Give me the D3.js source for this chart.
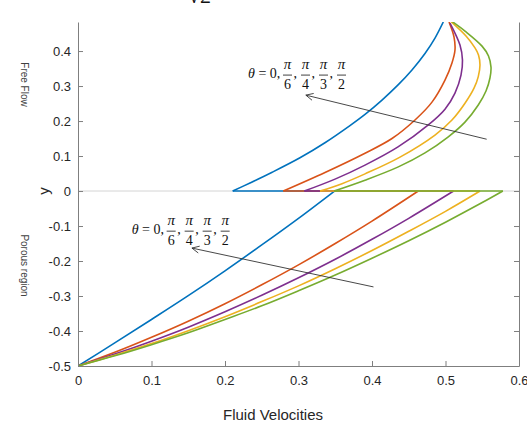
<!DOCTYPE html>
<html lang="en">
<head>
<meta charset="UTF-8">
<title>Fluid Velocities</title>
<script src="https://cdn.jsdelivr.net/npm/d3@7"></script>
<style>
    body { margin: 0; background: #fff; }
    svg { display: block; font-family: "Liberation Sans", Arial, sans-serif; }
    .math { font-family: "Liberation Serif", "Times New Roman", serif; font-size: 14px; fill: #111; }
</style>
</head>
<body>
<div id="chart"></div>
<script>
// theta values, one series each (drawn in this order)
var thetaDen = ["6", "4", "3", "2"];
var colors = ["#0072BD", "#D95319", "#7E2F8E", "#EDB120", "#77AC30"];

// porous region, [u, y]
var porousBlue   = [[0,-0.5],[0.05,-0.434],[0.1,-0.367],[0.15,-0.299],[0.2,-0.228],[0.25,-0.154],[0.3,-0.078],[0.349,0]];
var porousOrange = [[0,-0.5],[0.05,-0.461],[0.1,-0.418],[0.15,-0.372],[0.2,-0.322],[0.25,-0.268],[0.3,-0.211],[0.35,-0.150],[0.4,-0.086],[0.463,0]];
var porousPurple = [[0,-0.5],[0.05,-0.466],[0.1,-0.429],[0.15,-0.389],[0.2,-0.345],[0.25,-0.298],[0.3,-0.248],[0.35,-0.195],[0.4,-0.138],[0.45,-0.078],[0.511,0]];
var porousYellow = [[0,-0.5],[0.05,-0.469],[0.1,-0.436],[0.15,-0.399],[0.2,-0.359],[0.25,-0.316],[0.3,-0.271],[0.35,-0.222],[0.4,-0.170],[0.45,-0.115],[0.5,-0.058],[0.547,0]];
var porousGreen  = [[0,-0.5],[0.05,-0.471],[0.1,-0.439],[0.15,-0.405],[0.2,-0.367],[0.25,-0.328],[0.3,-0.285],[0.35,-0.240],[0.4,-0.192],[0.45,-0.142],[0.5,-0.089],[0.55,-0.033],[0.578,0]];

// free flow region, [u, y]
var freeBlue   = [[0.2105,0],[0.234,0.023],[0.2635,0.053],[0.302,0.095],[0.336,0.138],[0.370,0.187],[0.3905,0.219],[0.4136,0.260],[0.4358,0.304],[0.4544,0.346],[0.4721,0.393],[0.4857,0.437],[0.497,0.483]];
var freeOrange = [[0.2793,0],[0.3361,0.053],[0.3905,0.108],[0.4272,0.150],[0.4585,0.203],[0.4816,0.254],[0.4993,0.317],[0.5088,0.366],[0.5129,0.403],[0.5116,0.440],[0.5048,0.483]];
var freePurple = [[0.3079,0],[0.3497,0.034],[0.3905,0.074],[0.4354,0.126],[0.4766,0.189],[0.4993,0.234],[0.5129,0.280],[0.5211,0.331],[0.5231,0.374],[0.5197,0.417],[0.5061,0.480]];
var freeYellow = [[0.3293,0],[0.3592,0.021],[0.3905,0.049],[0.4381,0.097],[0.4857,0.160],[0.5088,0.203],[0.5265,0.251],[0.5388,0.294],[0.5446,0.327],[0.5469,0.360],[0.5449,0.389],[0.5401,0.409],[0.5279,0.443],[0.5075,0.484]];
var freeGreen  = [[0.3483,0],[0.3905,0.031],[0.4358,0.069],[0.4721,0.109],[0.5038,0.155],[0.5265,0.197],[0.5446,0.246],[0.5551,0.286],[0.5605,0.323],[0.5619,0.354],[0.5585,0.386],[0.5497,0.414],[0.5265,0.457],[0.5093,0.484]];

var xTicks = [0, 0.1, 0.2, 0.3, 0.4, 0.5, 0.6];
var yTicks = [-0.5, -0.4, -0.3, -0.2, -0.1, 0, 0.1, 0.2, 0.3, 0.4];

(function(){
    var porous = [porousBlue, porousOrange, porousPurple, porousYellow, porousGreen];
    var free = [freeBlue, freeOrange, freePurple, freeYellow, freeGreen];

    var width = 527, height = 423;
    var mLeft = 78, mRight = 519, mTop = 22, mBottom = 366;

    var svg = d3.select("#chart").append("svg")
        .attr("width", width)
        .attr("height", height);

    svg.append("rect").attr("width", width).attr("height", height).attr("fill", "#fff");

    var x = d3.scaleLinear().domain([0, 0.6]).range([mLeft, mRight]);
    var y = d3.scaleLinear().domain([-0.5, 0.483]).range([mBottom, mTop]);

    svg.append("defs").append("clipPath").attr("id", "plot")
        .append("rect").attr("x", mLeft).attr("y", mTop)
        .attr("width", mRight - mLeft).attr("height", mBottom - mTop);

    var fmt = function(d){ return d === 0 ? "0" : d.toFixed(1); };

    // zero line
    svg.append("line")
        .attr("x1", x(0)).attr("x2", x(0.6))
        .attr("y1", y(0)).attr("y2", y(0))
        .attr("stroke", "#d4d4d4").attr("stroke-width", 1);

    var line = d3.line()
        .x(function(d){ return x(d[0]); })
        .y(function(d){ return y(d[1]); })
        .curve(d3.curveCatmullRom.alpha(0.5));
    var straight = d3.line()
        .x(function(d){ return x(d[0]); })
        .y(function(d){ return y(d[1]); });

    var plot = svg.append("g").attr("clip-path", "url(#plot)");
    porous.forEach(function(p, i){
        var f = free[i];
        var g = plot.append("g").attr("fill", "none").attr("stroke", colors[i]).attr("stroke-width", 1.6);
        g.append("path").attr("d", line(p));
        g.append("path").attr("d", straight([p[p.length - 1], f[0]]));
        g.append("path").attr("d", line(f));
    });

    // axes
    function styleAxis(g){
        g.select(".domain").attr("stroke", "#7f7f7f");
        g.selectAll(".tick line").attr("stroke", "#7f7f7f");
        g.selectAll(".tick text").attr("fill", "#262626").style("font-size", "13px")
            .style("font-family", "'Liberation Sans', Arial, sans-serif");
    }

    svg.append("g")
        .attr("transform", "translate(" + mLeft + ",0)")
        .call(d3.axisLeft(y).tickValues(yTicks).tickFormat(fmt).tickSizeInner(-5).tickSizeOuter(0).tickPadding(7))
        .call(styleAxis);

    svg.append("g")
        .attr("transform", "translate(" + mRight + ",0)")
        .call(d3.axisRight(y).tickValues(yTicks).tickFormat("").tickSizeInner(-5).tickSizeOuter(0))
        .call(styleAxis);

    svg.append("g")
        .attr("transform", "translate(0," + mBottom + ")")
        .call(d3.axisBottom(x).tickValues(xTicks).tickFormat(fmt).tickSizeInner(-5).tickSizeOuter(0).tickPadding(10))
        .call(styleAxis);

    // labels
    svg.append("text")
        .attr("x", 273).attr("y", 420)
        .attr("text-anchor", "middle")
        .style("font-size", "15px").attr("fill", "#262626")
        .text("Fluid Velocities");

    svg.append("text")
        .attr("transform", "translate(49,191) rotate(-90)")
        .attr("text-anchor", "middle")
        .style("font-size", "15px").attr("fill", "#262626")
        .text("y");

    svg.append("text")
        .attr("transform", "translate(21,84.5) rotate(90)")
        .attr("text-anchor", "middle")
        .style("font-size", "10px").attr("fill", "#404040")
        .text("Free Flow");

    svg.append("text")
        .attr("transform", "translate(21,265.5) rotate(90)")
        .attr("text-anchor", "middle")
        .style("font-size", "10px").attr("fill", "#404040")
        .text("Porous region");

    // cropped title remnant at the very top
    svg.append("text")
        .attr("x", 188).attr("y", 3)
        .attr("class", "math").style("font-size", "22px")
        .text("√2");

    // theta annotations: [u, y] of label centre line, arrow tail, arrow tip
    var notes = [
        {at: [0.2313, 0.337], tail: [0.556, 0.148], tip: [0.310, 0.274]},
        {at: [0.073, -0.109], tail: [0.402, -0.274], tip: [0.155, -0.163]}
    ];

    notes.forEach(function(n){
        var g = svg.append("g").attr("transform", "translate(" + x(n.at[0]) + "," + y(n.at[1]) + ")");
        var t = g.append("text").attr("class", "math").attr("y", 5);
        t.append("tspan").style("font-style", "italic").text("θ");
        t.append("tspan").text(" = 0,");
        thetaDen.forEach(function(den, i){
            var cx = 39.5 + i * 18;
            g.append("text").attr("class", "math").attr("x", cx).attr("y", -4.5)
                .attr("text-anchor", "middle").style("font-style", "italic").style("font-size", "15px").text("π");
            g.append("line").attr("x1", cx - 4.5).attr("x2", cx + 4.5).attr("y1", 2).attr("y2", 2)
                .attr("stroke", "#111").attr("stroke-width", 0.8);
            g.append("text").attr("class", "math").attr("x", cx).attr("y", 16)
                .attr("text-anchor", "middle").text(den);
            if (i < thetaDen.length - 1) {
                g.append("text").attr("class", "math").attr("x", cx + 6).attr("y", 5).text(",");
            }
        });

        var x0 = x(n.tail[0]), y0 = y(n.tail[1]), x1 = x(n.tip[0]), y1 = y(n.tip[1]);
        var ang = Math.atan2(y0 - y1, x0 - x1), len = 8, spread = 0.45;
        svg.append("path")
            .attr("d", "M" + x0 + "," + y0 + "L" + x1 + "," + y1 +
                "M" + (x1 + len * Math.cos(ang + spread)) + "," + (y1 + len * Math.sin(ang + spread)) +
                "L" + x1 + "," + y1 +
                "L" + (x1 + len * Math.cos(ang - spread)) + "," + (y1 + len * Math.sin(ang - spread)))
            .attr("fill", "none").attr("stroke", "#333").attr("stroke-width", 0.9);
    });
}());
</script>
</body>
</html>
